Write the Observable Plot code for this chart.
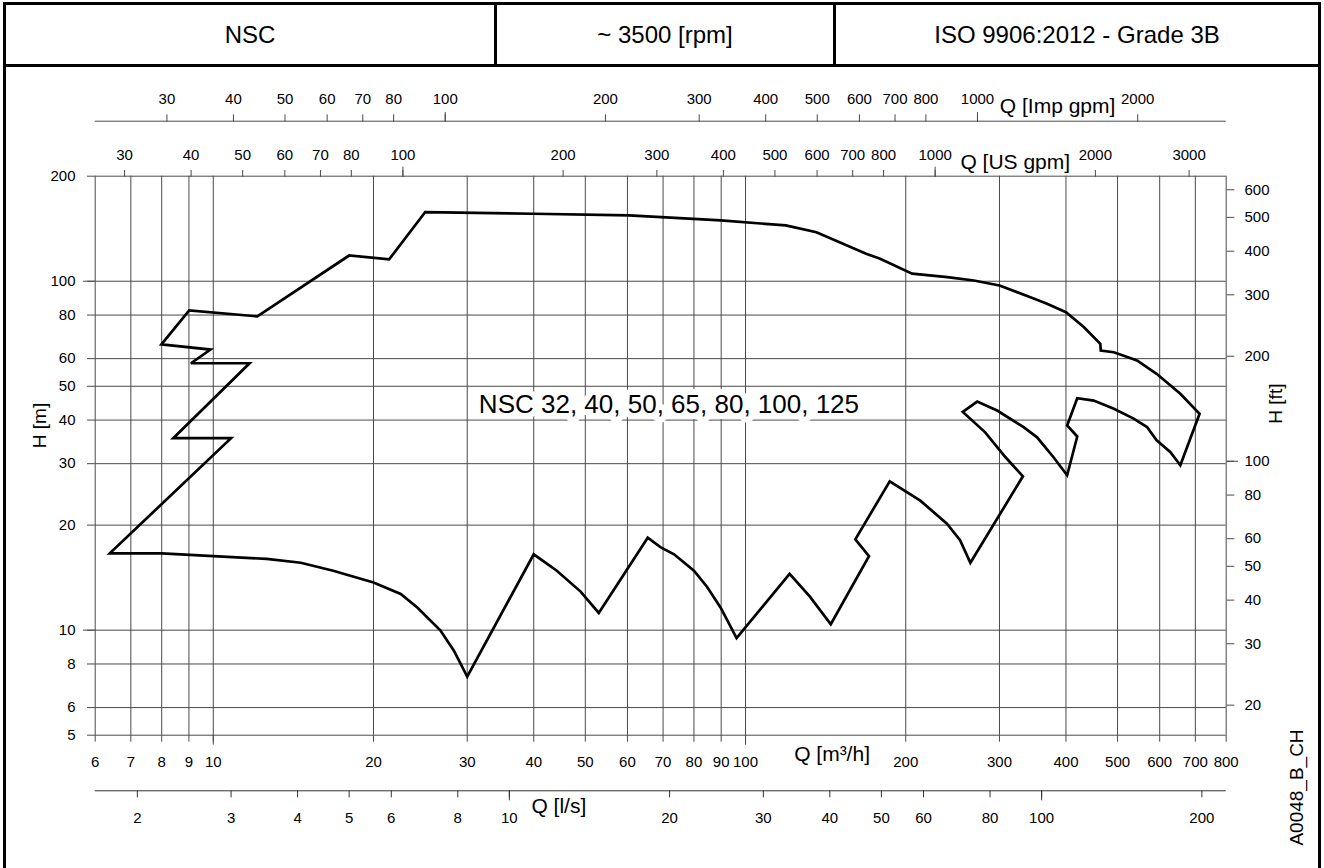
<!DOCTYPE html>
<html>
<head>
<meta charset="utf-8">
<script src="https://cdn.jsdelivr.net/npm/d3@7"></script>
<script src="https://cdn.jsdelivr.net/npm/@observablehq/plot@0.6"></script>
<style>
html, body { margin: 0; padding: 0; background: #fff; }
#wrap { position: relative; width: 1324px; height: 868px; overflow: hidden; font-family: "Liberation Sans", Arial, Helvetica, sans-serif; color: #000; }
#frame { position: absolute; left: 3px; top: 2px; width: 1318px; height: 900px; box-sizing: border-box; border: 3px solid #000; pointer-events: none; z-index: 3; }
#header { position: absolute; left: 3px; top: 2px; width: 1318px; height: 65px; box-sizing: border-box; border: 3px solid #000; display: flex; z-index: 2; background: #fff; }
.cell { display: flex; align-items: center; justify-content: center; font-size: 24px; box-sizing: border-box; height: 100%; }
#c1 { width: 491px; border-right: 3px solid #000; }
#c2 { width: 339px; border-right: 3px solid #000; }
#c3 { width: 482px; }
#chart { position: absolute; left: 0; top: 67px; }
</style>
</head>
<body>
<div id="wrap">
  <div id="header">
    <div class="cell" id="c1">NSC</div>
    <div class="cell" id="c2">~ 3500 [rpm]</div>
    <div class="cell" id="c3">ISO 9906:2012 - Grade 3B</div>
  </div>
  <div id="chart"></div>
  <div id="frame"></div>
</div>
<script>
// ---- tick / grid values ----
const qGrid = [6, 7, 8, 9, 10, 20, 30, 40, 50, 60, 70, 80, 90, 100, 200, 300, 400, 500, 600, 700, 800]; // m3/h
const qMajor = [10, 100];
const hGrid = [5, 6, 8, 10, 20, 30, 40, 50, 60, 80, 100, 200]; // m
const hMajor = [10, 100];
const ftTicks = [20, 30, 40, 50, 60, 80, 100, 200, 300, 400, 500, 600];
const ftMajor = [100];
const usTicks = [30, 40, 50, 60, 70, 80, 100, 200, 300, 400, 500, 600, 700, 800, 1000, 2000, 3000];
const usMajor = [100, 1000];
const impTicks = [30, 40, 50, 60, 70, 80, 100, 200, 300, 400, 500, 600, 700, 800, 1000, 2000];
const impMajor = [100, 1000];
const lsTicks = [2, 3, 4, 5, 6, 8, 10, 20, 30, 40, 50, 60, 80, 100, 200];
const lsMajor = [10, 100];

// unit conversions (per m3/h, per m)
const US_PER_M3H = 4.402868;
const IMP_PER_M3H = 3.666154;
const LS_PER_M3H = 1 / 3.6;
const FT_PER_M = 3.28084;

// ---- envelope outline (Q in m3/h, H in m), traced as one closed path ----
const envQ = [
  25.0, 39.9, 60.4, 89.9, 119, 135.9, 168.5, 179, 205.6, 239.4, 268.5, 300, 343, 368.6, 400, 432, 464, 465, 492, 544, 592, 656, 713,
  656, 628, 592, 568, 536, 492, 451, 420, 402, 420, 402,
  379, 353, 333, 297, 272.4, 256,
  282, 308, 332,
  264.5, 253, 239, 213, 186.6,
  160.8, 170.6, 144.6, 132, 121, 96.2, 89.8, 84.7, 80, 73.4, 69.2, 65.5, 53, 49, 44.2, 40, 30,
  28.3, 26.7, 24.2, 22.5, 20, 16.8, 14.6, 12.6, 10, 8, 6.39,
  10.8, 8.41, 11.7, 9.08, 9.88, 7.99, 9.01, 12.1, 18.0, 21.4, 25.0
];
const envH = [
  157.7, 156.1, 154.5, 149.4, 144.5, 138.2, 119.8, 116, 105.1, 102.7, 100.5, 97.2, 90.0, 86.2, 81.5, 73.9, 66.2, 63.3, 62.6, 59.3, 54.3, 47.6, 41.7,
  29.7, 32.4, 35.0, 38.2, 40.4, 43.1, 45.5, 46.2, 38.6, 35.9, 27.8,
  31.3, 35.7, 38.2, 42.6, 45.2, 42.2,
  36.9, 31.3, 27.6,
  15.6, 18.1, 20.2, 23.5, 26.7,
  18.2, 16.3, 10.4, 12.5, 14.5, 9.49, 11.6, 13.3, 14.8, 16.5, 17.3, 18.4, 11.2, 12.9, 14.8, 16.5, 7.36,
  8.75, 9.99, 11.6, 12.7, 13.7, 14.8, 15.6, 16.0, 16.3, 16.6, 16.6,
  35.5, 35.5, 58.2, 58.2, 63.7, 65.9, 82.5, 79.3, 118.5, 115.5, 157.7
];

const seriesLabel = "NSC 32, 40, 50, 65, 80, 100, 125";
const codeLabel = "A0048_B_CH";

const envelope = envQ.map((q, i) => ({q, h: envH[i]}));
const gridCol = "#4a4a4a";
const tickFont = 15;
const titleFont = 21;
const txt = {fill: "#000", fontSize: tickFont, fontVariant: "normal"};

const plot = Plot.plot({
  width: 1324,
  height: 801,
  marginLeft: 94.7,
  marginRight: 98.3,
  marginTop: 108.7,
  marginBottom: 133.3,
  style: {fontFamily: "'Liberation Sans', Arial, Helvetica, sans-serif", background: "#fff", color: "#000"},
  x: {type: "log", domain: [6, 800], axis: null},
  y: {type: "log", domain: [5, 200], axis: null},
  marks: [
    // grid
    Plot.ruleX(qGrid, {stroke: gridCol, strokeWidth: 1}),
    Plot.ruleY(hGrid, {stroke: gridCol, strokeWidth: 1}),
    // secondary axis lines (Imp gpm above, l/s below)
    Plot.ruleY([200], {dy: -55, stroke: gridCol, strokeWidth: 1}),
    Plot.ruleY([5], {dy: 55.6, stroke: "#333", strokeWidth: 1}),

    // envelope
    Plot.line(envelope, {x: "q", y: "h", stroke: "#000", strokeWidth: 2.7, strokeLinejoin: "miter", strokeMiterlimit: 3}),

    // annotation
    Plot.text([{t: seriesLabel, q: 71.8, h: 44.3}], {x: "q", y: "h", text: "t", fontSize: 26, fill: "#000", stroke: "#fff", strokeWidth: 12, textAnchor: "middle"}),

    // tick marks (no labels here)
    Plot.axisX({anchor: "bottom", ticks: qGrid, tickSize: 7, stroke: gridCol, fill: "none", label: null}),
    Plot.axisX({anchor: "bottom", ticks: qMajor, tickSize: 10, stroke: gridCol, fill: "none", label: null}),
    Plot.axisX({anchor: "bottom", dy: 55.6, ticks: lsTicks.map(v => v / LS_PER_M3H), tickSize: 7, stroke: "#333", fill: "none", label: null}),
    Plot.axisX({anchor: "bottom", dy: 55.6, ticks: lsMajor.map(v => v / LS_PER_M3H), tickSize: 10, stroke: "#333", fill: "none", label: null}),
    Plot.axisX({anchor: "top", ticks: usTicks.map(v => v / US_PER_M3H), tickSize: 6.7, stroke: gridCol, fill: "none", label: null}),
    Plot.axisX({anchor: "top", ticks: usMajor.map(v => v / US_PER_M3H), tickSize: 10, stroke: gridCol, fill: "none", label: null}),
    Plot.axisX({anchor: "top", dy: -55, ticks: impTicks.map(v => v / IMP_PER_M3H), tickSize: 7.4, stroke: gridCol, fill: "none", label: null}),
    Plot.axisX({anchor: "top", dy: -55, ticks: impMajor.map(v => v / IMP_PER_M3H), tickSize: 9.7, stroke: gridCol, fill: "none", label: null}),
    Plot.axisY({anchor: "left", ticks: hGrid, tickSize: 7.7, stroke: gridCol, fill: "none", label: null}),
    Plot.axisY({anchor: "left", ticks: hMajor, tickSize: 11.7, stroke: gridCol, fill: "none", label: null}),
    Plot.axisY({anchor: "right", ticks: ftTicks.map(v => v / FT_PER_M), tickSize: 7.6, stroke: gridCol, fill: "none", label: null}),
    Plot.axisY({anchor: "right", ticks: ftMajor.map(v => v / FT_PER_M), tickSize: 11.3, stroke: gridCol, fill: "none", label: null}),

    // tick labels
    Plot.text(qGrid, {x: (d) => d, text: (d) => String(d), frameAnchor: "bottom", dy: 21.3, lineAnchor: "top", ...txt}),
    Plot.text(lsTicks, {x: (d) => d / LS_PER_M3H, text: (d) => String(d), frameAnchor: "bottom", dy: 77.3, lineAnchor: "top", ...txt}),
    Plot.text(usTicks, {x: (d) => d / US_PER_M3H, text: (d) => String(d), frameAnchor: "top", dy: -16.3, lineAnchor: "bottom", ...txt}),
    Plot.text(impTicks, {x: (d) => d / IMP_PER_M3H, text: (d) => String(d), frameAnchor: "top", dy: -72.4, lineAnchor: "bottom", ...txt}),
    Plot.text(hGrid, {y: (d) => d, text: (d) => String(d), frameAnchor: "left", dx: -19.7, textAnchor: "end", ...txt}),
    Plot.text(ftTicks, {y: (d) => d / FT_PER_M, text: (d) => String(d), frameAnchor: "right", dx: 18.3, textAnchor: "start", ...txt}),

    // axis titles
    Plot.text([{t: "Q [m³/h]", q: 145.4}], {x: "q", text: "t", frameAnchor: "bottom", dy: 26.1, fontSize: titleFont, textAnchor: "middle", fill: "#000"}),
    Plot.text([{t: "Q [l/s]", q: 11 / LS_PER_M3H}], {x: "q", text: "t", frameAnchor: "bottom", dy: 78, fontSize: titleFont, textAnchor: "start", fill: "#000"}),
    Plot.text([{t: "Q [US gpm]", q: Math.sqrt(1000 * 2000) / US_PER_M3H}], {x: "q", text: "t", frameAnchor: "top", dy: -22.2, fontSize: titleFont, textAnchor: "middle", fill: "#000"}),
    Plot.text([{t: "Q [Imp gpm]", q: Math.sqrt(1000 * 2000) / IMP_PER_M3H}], {x: "q", text: "t", frameAnchor: "top", dy: -78.2, fontSize: titleFont, textAnchor: "middle", fill: "#000"}),
    Plot.text([{t: "H [m]", h: 38.6}], {y: "h", text: "t", frameAnchor: "left", dx: -55, rotate: -90, fontSize: 19, textAnchor: "middle", fill: "#000"}),
    Plot.text([{t: "H [ft]", h: 44.6}], {y: "h", text: "t", frameAnchor: "right", dx: 49.3, rotate: -90, fontSize: 19, textAnchor: "middle", fill: "#000"}),
    Plot.text([{t: codeLabel}], {text: "t", frameAnchor: "bottom-right", dx: 76.3, dy: 52.3, rotate: -90, fontSize: 19, textAnchor: "middle", fill: "#000"})
  ]
});
document.getElementById("chart").appendChild(plot);
</script>
</body>
</html>
